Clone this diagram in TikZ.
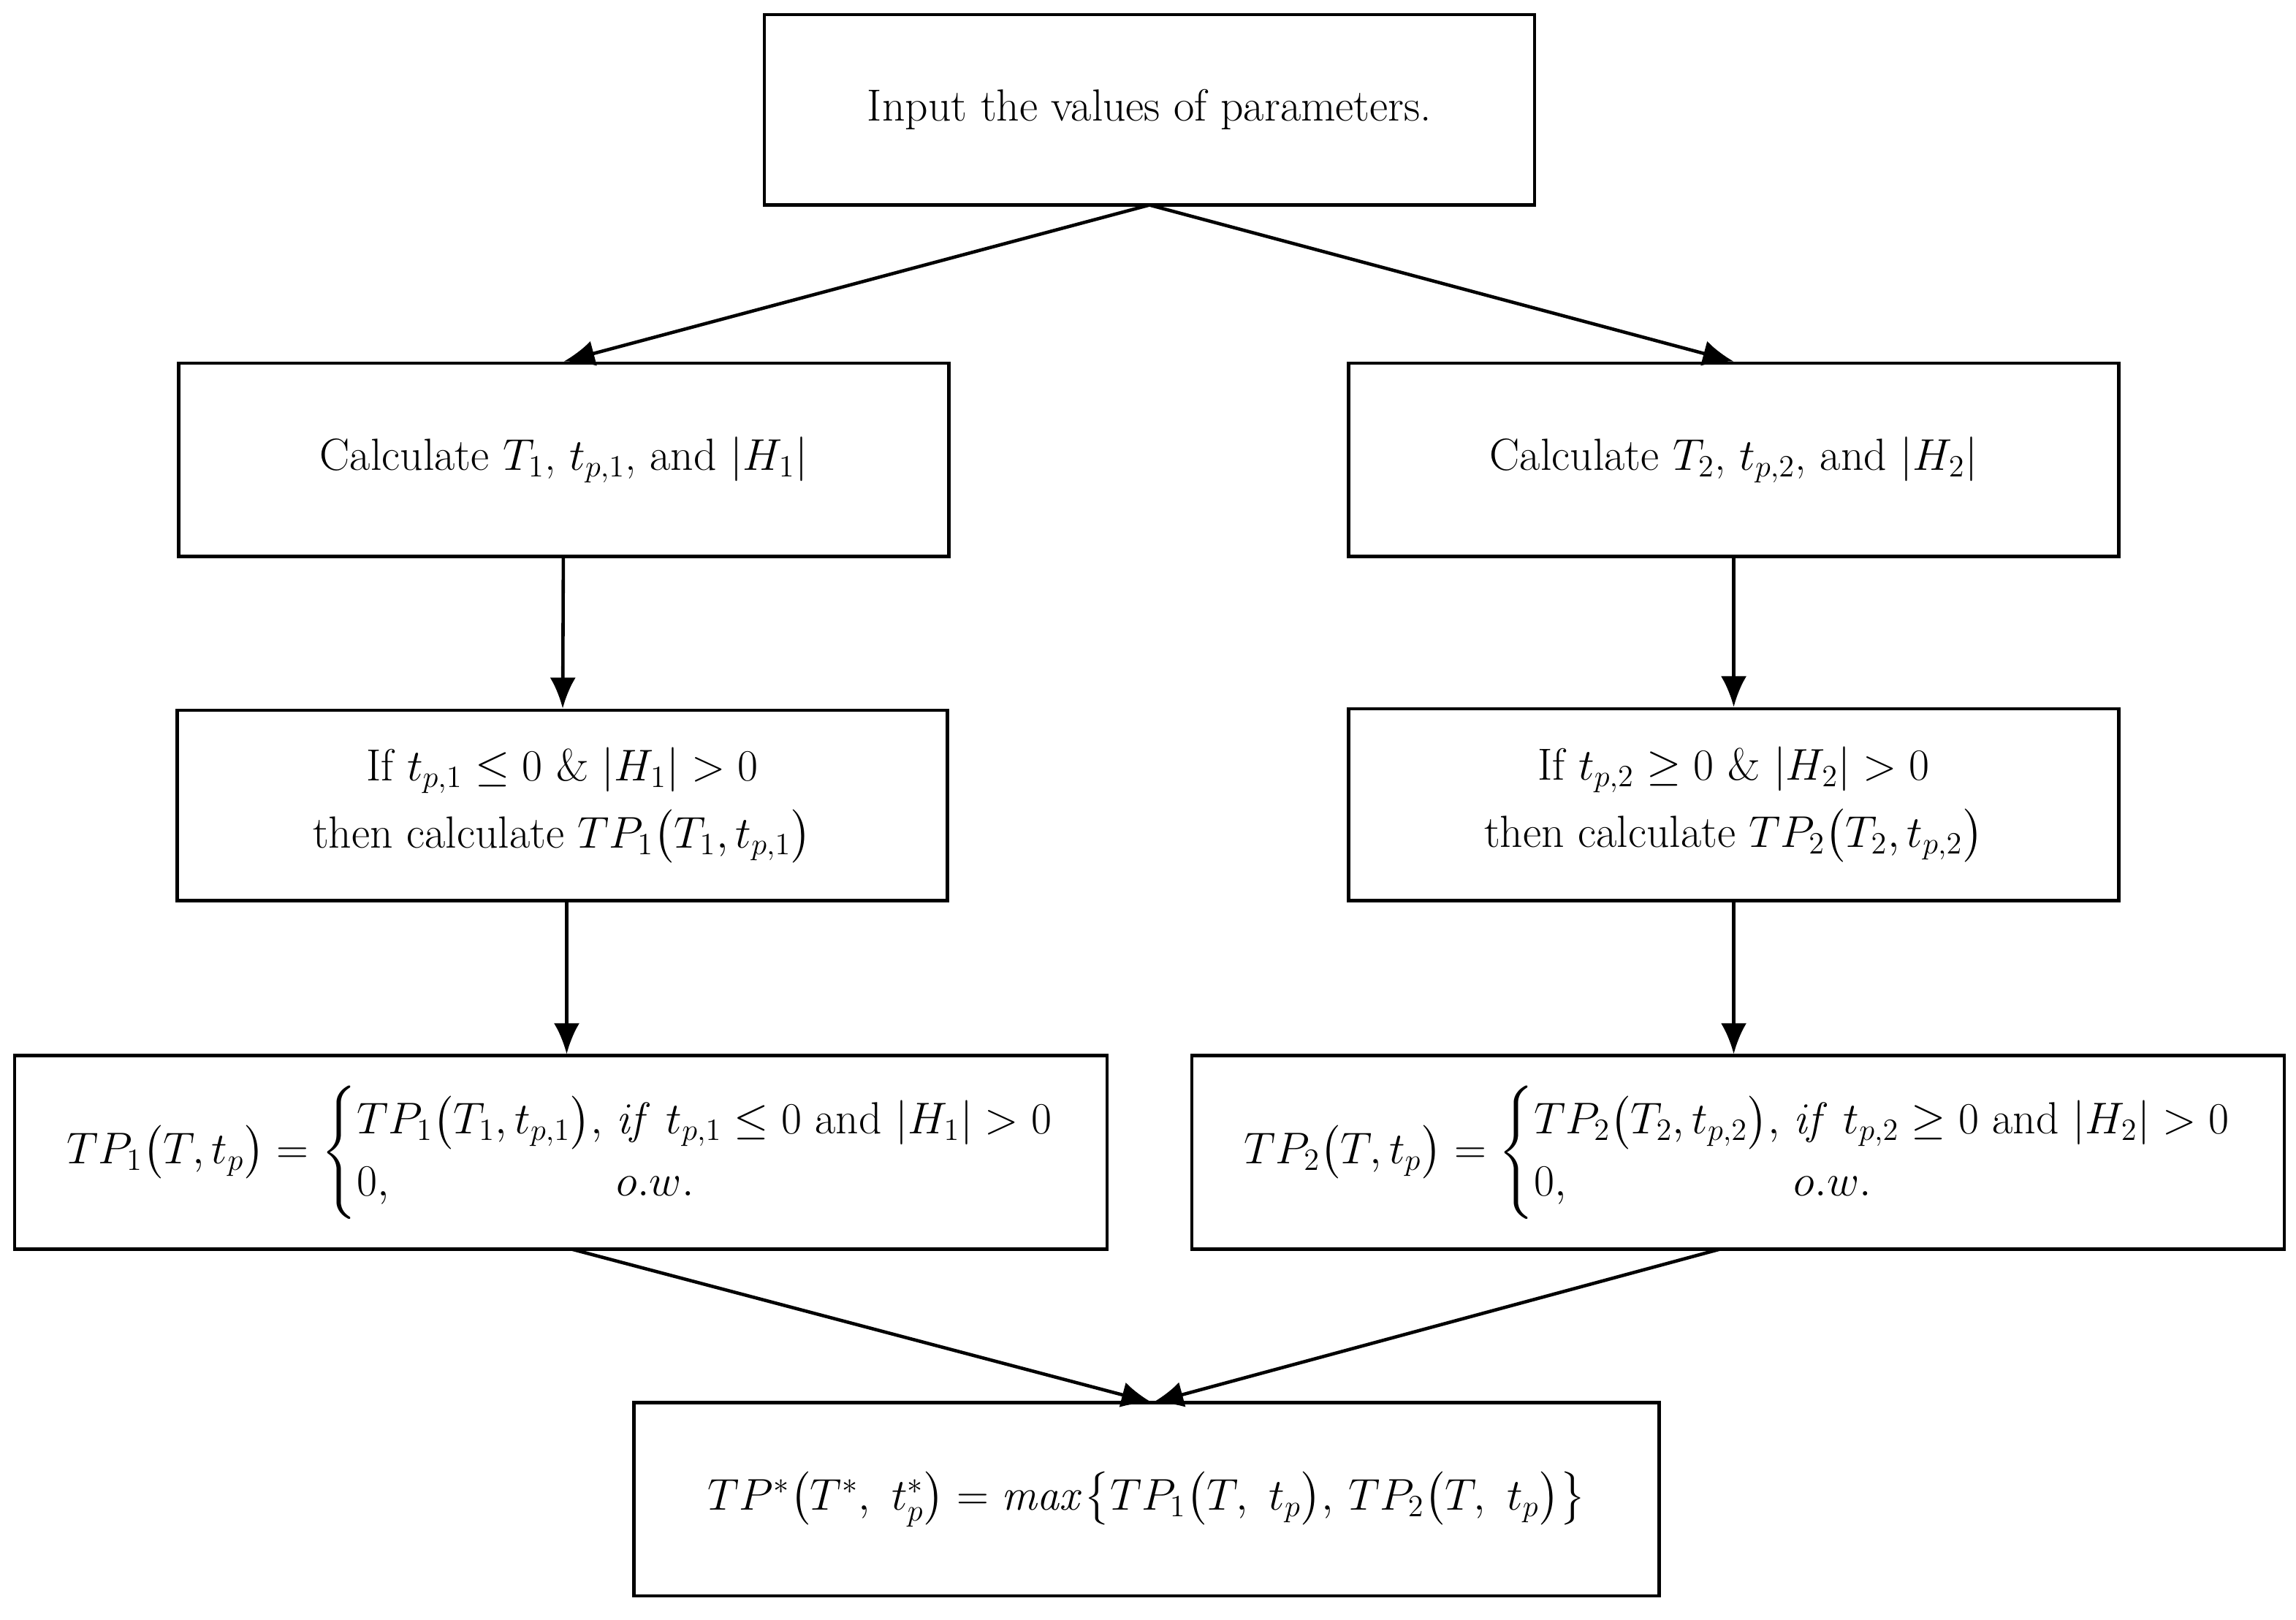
\documentclass[tikz,border=0pt]{standalone}
\usepackage{amsmath}
\usetikzlibrary{arrows.meta}
\newcommand{\mycases}[1]{\left\{\begin{array}{@{}l@{\ }l@{}}#1\end{array}\right.}
\begin{document}
\begin{tikzpicture}[x=0.02cm,y=-0.02cm,
  box/.style={draw,line width=1.3pt,inner sep=0pt,font=\fontsize{17.5}{24}\selectfont,align=center},
  arr/.style={line width=1.3pt,-{Latex[length=12pt,width=10pt]}}]
\useasboundingbox (0,0) rectangle (1568,1106);
\node[box,minimum width=526*0.02cm,minimum height=130*0.02cm] (top) at (785,75) {Input the values of parameters.};
\node[box,minimum width=526*0.02cm,minimum height=132*0.02cm] (l1) at (385,314) {Calculate $T_1$, $t_{p,1}$, and $|H_1|$};
\node[box,minimum width=526*0.02cm,minimum height=132*0.02cm] (r1) at (1184,314) {Calculate $T_2$, $t_{p,2}$, and $|H_2|$};
\node[box,minimum width=526*0.02cm,minimum height=130*0.02cm] (l2) at (384,550) {If $t_{p,1}\le 0$ \& $|H_1|>0$\\[2pt] then calculate $TP_1\bigl(T_1,t_{p,1}\bigr)$};
\node[box,minimum width=526*0.02cm,minimum height=131*0.02cm] (r2) at (1184,549.5) {If $t_{p,2}\ge 0$ \& $|H_2|>0$\\[2pt] then calculate $TP_2\bigl(T_2,t_{p,2}\bigr)$};
\node[box,minimum width=746*0.02cm,minimum height=132*0.02cm] (l3) at (383,787) {$TP_1\bigl(T,t_p\bigr)=\mycases{TP_1\bigl(T_1,t_{p,1}\bigr), & \mathit{if}\ t_{p,1}\le 0 \text{ and } |H_1|>0\\ 0, & o.w.}$};
\node[box,minimum width=746*0.02cm,minimum height=132*0.02cm] (r3) at (1187,787) {$TP_2\bigl(T,t_p\bigr)=\mycases{TP_2\bigl(T_2,t_{p,2}\bigr), & \mathit{if}\ t_{p,2}\ge 0 \text{ and } |H_2|>0\\ 0, & o.w.}$};
\node[box,minimum width=700*0.02cm,minimum height=132*0.02cm] (bot) at (783,1024) {$TP^{*}\bigl(T^{*},\ t_p^{*}\bigr)=\mathit{max}\bigl\{TP_1\bigl(T,\ t_p\bigr),\,TP_2\bigl(T,\ t_p\bigr)\bigr\}$};
\coordinate (ts) at (785,140);
\draw[arr] (ts) -- (l1.north);
\draw[arr] (ts) -- (r1.north);
\draw[arr] (l1) -- (l2);
\draw[arr] (r1) -- (r2);
\draw[arr] (l2.south -| 387,0) -- (l3.north -| 387,0);
\draw[arr] (r2) -- (r3.north -| r2.south);
\coordinate (bt) at (787,958);
\draw[arr] (390,853) -- (bt);
\draw[arr] (1175,853) -- (bt);
\end{tikzpicture}
\end{document}
